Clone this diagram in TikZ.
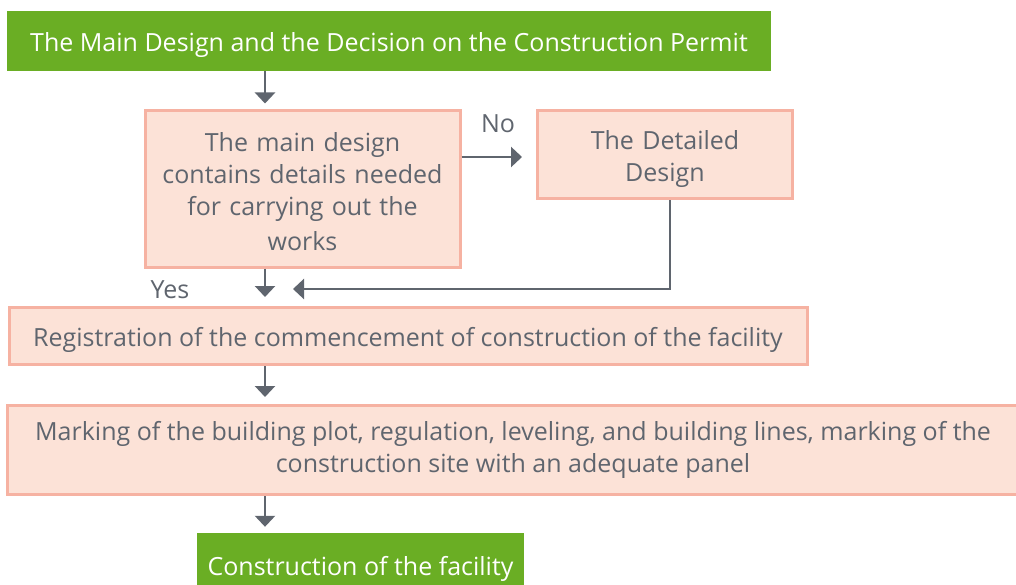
\documentclass[tikz,border=0pt]{standalone}
\usepackage{fontspec}
\setmainfont{Open Sans}
\usetikzlibrary{arrows.meta}
\definecolor{grn}{RGB}{106,174,36}
\definecolor{pinkfill}{RGB}{252,226,215}
\definecolor{pinkline}{RGB}{246,178,162}
\definecolor{txt}{RGB}{95,101,110}
\newcommand\linestrut{\rule[-4.3pt]{0pt}{32pt}}
\tikzset{
  x=1pt, y=-1pt,
  every node/.style={inner sep=0pt, font=\fontsize{25}{32}\selectfont, align=center,
    execute at begin node=\linestrut, execute at end node=\linestrut},
  greenbox/.style={fill=grn, draw=none, text=white},
  pinkbox/.style={fill=pinkfill, draw=pinkline, line width=3pt, text=txt},
  arr/.style={draw=txt, line width=2.5pt, -{Triangle[width=20pt,length=11pt]}},
  lbl/.style={text=txt}
}
\begin{document}
\begin{tikzpicture}
\useasboundingbox (0,0) rectangle (1016,585);
\node[greenbox, minimum width=764pt, minimum height=60pt] (top) at (389,41) {The Main Design and the Decision on the Construction Permit};
\node[pinkbox, minimum width=315pt, minimum height=156pt, text width=300pt] (dec) at (302.5,189) {The main design\\contains details needed\\for carrying out the\\works};
\node[pinkbox, minimum width=255pt, minimum height=88pt, text width=240pt] (det) at (665,155) {The Detailed\\Design};
\node[pinkbox, minimum width=798pt, minimum height=57pt] (reg) at (408,336) {Registration of the commencement of construction of the facility};
\node[pinkbox, minimum width=1012pt, minimum height=89pt] (mark) at (513,450) {Marking of the building plot, regulation, leveling, and building lines, marking of the\\construction site with an adequate panel};
\node[greenbox, minimum width=327pt, minimum height=64pt] (cons) at (360.5,565) {Construction of the facility};
\node[lbl] (no) at (498,121) {No};
\node[lbl] (yes) at (170,287) {Yes};
\coordinate (ax) at (265,0);
\coordinate (nx) at (0,157);
\coordinate (jx) at (670,0);
\coordinate (jn) at (293,289);
\draw[arr, shorten >=6pt] (top.south -| ax) -- (dec.north -| ax);
\draw[arr, shorten >=14pt] (dec.east |- nx) -- (det.west |- nx);
\draw[arr, shorten >=9pt] (dec.south -| ax) -- (reg.north -| ax);
\draw[arr] (det.south -| jx) |- (jn);
\draw[arr, shorten >=7pt] (reg.south -| ax) -- (mark.north -| ax);
\draw[arr, shorten >=6pt] (mark.south -| ax) -- (cons.north -| ax);
\end{tikzpicture}
\end{document}
